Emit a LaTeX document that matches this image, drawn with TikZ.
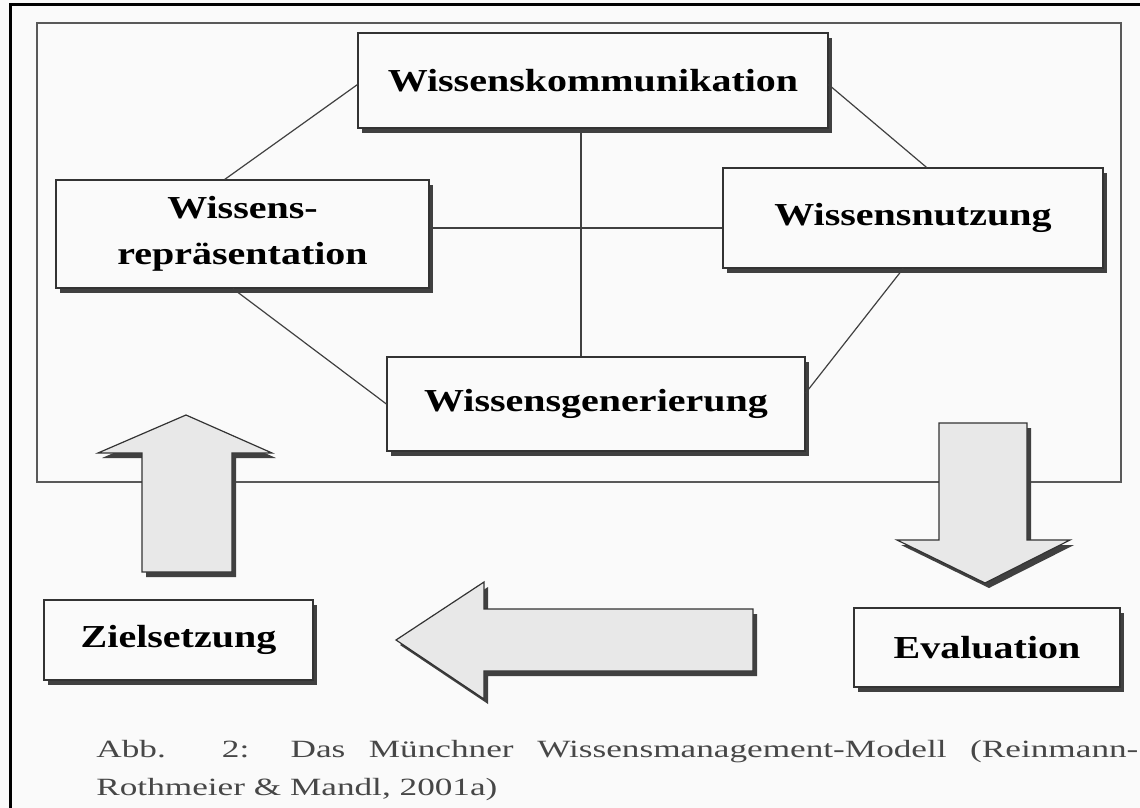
\documentclass[tikz,border=0pt]{standalone}
\usepackage{fontspec}
\setmainfont{Liberation Serif}[FakeStretch=1.25]
\newfontfamily\capfont{Liberation Serif}[FakeStretch=1.42]
\usetikzlibrary{shadows}

\tikzset{
	boxshadow/.style={drop shadow={shadow xshift=2pt, shadow yshift=-2.5pt,
		fill=black!75, opacity=1}},
	wbox/.style={rectangle, draw=black!80, line width=0.6pt, fill=black!2,
		font=\bfseries\fontsize{16}{23}\selectfont, align=center,
		inner sep=0pt, boxshadow},
	bigarrow/.style={draw=black!80, line width=0.6pt, fill=black!9, boxshadow},
	link/.style={draw=black!75, line width=0.6pt},
	capstyle/.style={font=\capfont\fontsize{12.4}{15}\selectfont, text=black!72,
		inner sep=0pt},
}

\begin{document}
\begin{tikzpicture}[x=0.5pt,y=-0.5pt]
	\useasboundingbox[fill=black!2] (0,0) rectangle (1140,808);
	% frames
	\draw[line width=1.5pt] (10,808) -- (10,5) -- (1140,5);
	\draw[black!65, line width=1pt] (37,23) rectangle (1121,482);

	% block arrows
	\path[bigarrow] (142,572) -- (142,453) -- (98,453) -- (186,415)
		-- (272,453) -- (232,453) -- (232,572) -- cycle;
	\path[bigarrow] (939,423) -- (1027,423) -- (1027,540) -- (1070,540)
		-- (985,583) -- (897,540) -- (939,540) -- cycle;
	\path[bigarrow] (753,609) -- (484,609) -- (484,582) -- (396,640)
		-- (484,699) -- (484,671) -- (753,671) -- cycle;

	\begin{scope}[every node/.style={wbox}]
	\node (komm) at (593,80.5) [minimum width=235pt, minimum height=47.5pt] {Wissenskommunikation};
	\node (repr) at (242.5,234) [minimum width=186.5pt, minimum height=54pt] {Wissens-\\repräsentation};
	\node (nutz) at (913,218) [minimum width=190pt, minimum height=50pt] {Wissensnutzung};
	\node (gen) at (596,404) [minimum width=209pt, minimum height=47pt] {Wissensgenerierung};
	\node (ziel) at (178.5,640) [minimum width=134.5pt, minimum height=40pt] {Zielsetzung};
	\node (eval) at (987,647.5) [minimum width=133pt, minimum height=39.5pt] {Evaluation};
	\end{scope}

	\coordinate (cross) at (581,228);
	\path[link] (komm.181) edge (repr.108);
	\path[link] (komm.-1) edge (nutz.75);
	\path[link] (repr.260) edge (gen.west);
	\path[link] (nutz.259) edge (gen.3);
	\path[link] (repr.east |- cross) edge (nutz.west |- cross);
	\path[link] (komm.south -| cross) edge (gen.north -| cross);

	% caption
	\node[capstyle, anchor=base west] (cap1) at (96,757)
		{\makebox[521pt][s]{Abb. 2: Das Münchner Wissensmanagement-Modell (Reinmann-}};
	\node[capstyle, anchor=base west] (cap2) at (96,795) {Rothmeier \& Mandl, 2001a)};
\end{tikzpicture}
\end{document}
